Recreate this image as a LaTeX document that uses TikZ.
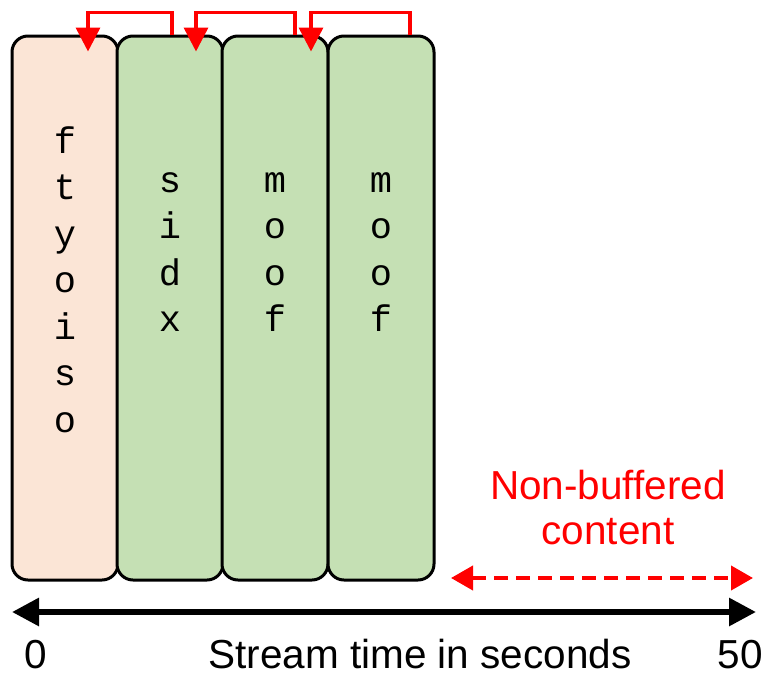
\documentclass[tikz,border=0pt]{standalone}
\usepackage{fontspec}
\setmainfont{Liberation Sans}
\setmonofont{Liberation Mono}
\usetikzlibrary{arrows.meta,calc}
\definecolor{boxpeach}{HTML}{FBE5D6}
\definecolor{boxgreen}{HTML}{C5E0B4}
\tikzstyle{segbox}=[draw=black,line width=3pt,rounded corners=16pt,minimum width=106pt,minimum height=544pt,inner sep=0pt]
\tikzstyle{letters}=[anchor=north,align=center,inner sep=0pt,font=\ttfamily\fontsize{37}{46.5}\selectfont]
\tikzstyle{reflink}=[red,line width=3.5pt,-{Triangle[length=24pt,width=24pt]}]
\tikzstyle{label}=[inner sep=0pt,font=\fontsize{40.5}{45}\selectfont]

\begin{document}
\begin{tikzpicture}[x=1pt,y=-1pt]
    \useasboundingbox (0,0) rectangle (766,675);
    \foreach \pos/\name/\col in {{(65,308)/ftyp/boxpeach}, {(170,308)/sidx/boxgreen}, {(275,308)/moofa/boxgreen}, {(381,308)/moofb/boxgreen}}
        \node[segbox, fill=\col] (\name) at \pos {};

    \node[letters] (ftyptxt) at (65,126) {f\\t\\y\\o\\i\\s\\o};
    \node[letters] (sidxtxt) at (170,172) {s\\i\\d\\x};
    \node[letters] (moofatxt) at (275,172) {m\\o\\o\\f};
    \node[letters] (moofbtxt) at (381,172) {m\\o\\o\\f};

             \draw[reflink] ($(sidx.north)+(2,0)$) -- ++(0,-22) -| ($(ftyp.north)+(23,17)$);
             \draw[reflink] ($(moofa.north)+(20,0)$) -- ++(0,-22) -| ($(sidx.north)+(26,17)$);
             \draw[reflink] ($(moofb.north)+(29,0)$) -- ++(0,-22) -| ($(moofa.north)+(36,17)$);

    \coordinate (tstart) at (12,612);
    \coordinate (tend) at (756,612);
    \draw[line width=6pt, {Triangle[length=27pt,width=27pt]}-{Triangle[length=27pt,width=27pt]}] (tstart) -- (tend);

    \coordinate (nbstart) at (451,578);
    \coordinate (nbend) at (753,578);
    \draw[red, line width=4pt, dash pattern=on 14pt off 8pt, {Triangle[length=22pt,width=24pt]}-{Triangle[length=22pt,width=24pt]}] (nbstart) -- (nbend);

    \node[label, red, align=center] (nonbuf) at (608,508) {Non-buffered\\content};
    \node[label, anchor=base] (zero) at (36,668) {0};
    \node[label, anchor=base] (axislabel) at (420,668) {Stream time in seconds};
    \node[label, anchor=base] (fifty) at (740,668) {50};
\end{tikzpicture}
\end{document}
